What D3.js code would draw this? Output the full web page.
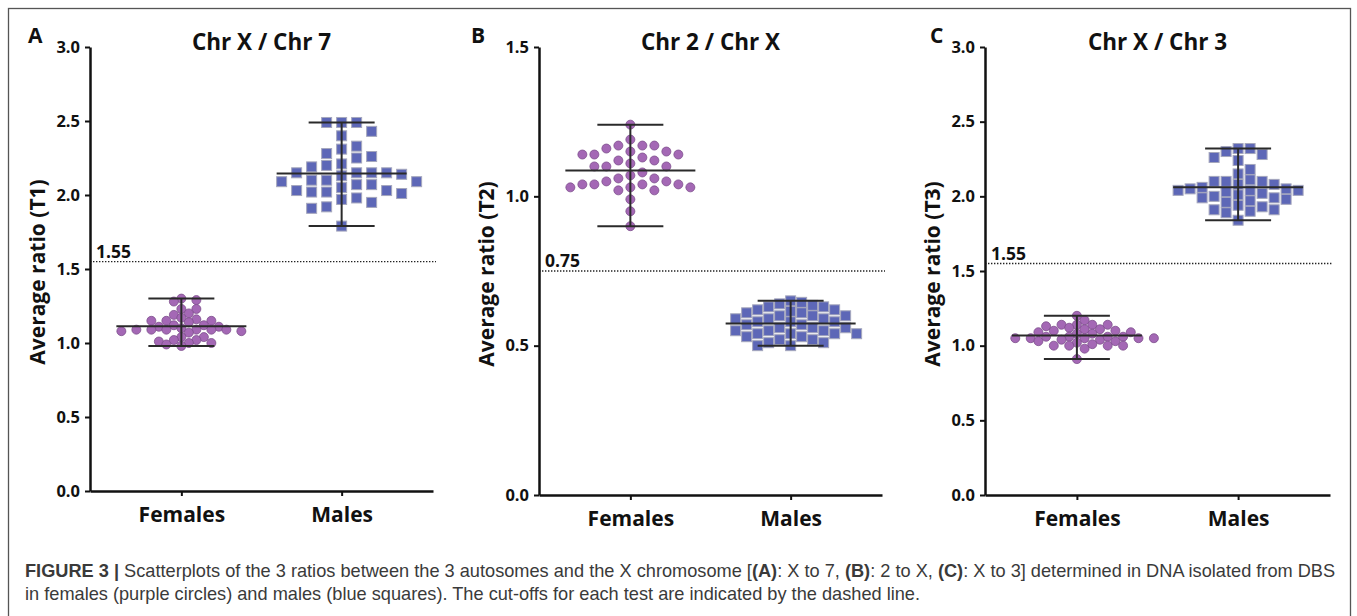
<!DOCTYPE html>
<html lang="en">
<head>
<meta charset="UTF-8">
<title>Figure 3</title>
<script src="https://d3js.org/d3.v7.min.js"></script>
<style>
  body { margin: 0; background: #fff; }
  svg text { font-family: "Open Sans", sans-serif; }
  .caption text, .caption tspan { font-family: "Liberation Sans", Arial, sans-serif; }
</style>
</head>
<body>
<script>
    // categories and labels
    var groups = ["Females", "Males"];
    var panelLetters = ["A", "B", "C"];
    var panelTitles = ["Chr X / Chr 7", "Chr 2 / Chr X", "Chr X / Chr 3"];
    var yTitles = ["Average ratio (T1)", "Average ratio (T2)", "Average ratio (T3)"];
    var yMaxes = [3.0, 1.5, 3.0];
    var yTicks = [
        [0, 0.5, 1.0, 1.5, 2.0, 2.5, 3.0],
        [0, 0.5, 1.0, 1.5],
        [0, 0.5, 1.0, 1.5, 2.0, 2.5, 3.0]
    ];
    var cutoffs = [1.55, 0.75, 1.55];
    var cutoffLabels = ["1.55", "0.75", "1.55"];

    // values
    var femalesT1 = [1.30, 1.29, 1.28, 1.23, 1.23, 1.20, 1.19, 1.17, 1.16, 1.15, 1.15, 1.15, 1.14, 1.12, 1.12, 1.11, 1.11, 1.10,
        1.09, 1.09, 1.09, 1.09, 1.09, 1.09, 1.08, 1.08, 1.07, 1.04, 1.04, 1.02, 1.02, 1.01, 1.00, 1.00, 0.99, 0.98];
    var malesT1 = [2.49, 2.49, 2.49, 2.43, 2.40, 2.33, 2.31, 2.28, 2.26, 2.25, 2.21, 2.20, 2.19, 2.15, 2.15, 2.15, 2.15, 2.14, 2.13,
        2.10, 2.10, 2.09, 2.09, 2.07, 2.07, 2.05, 2.03, 2.03, 2.02, 2.02, 2.01, 1.98, 1.97, 1.95, 1.92, 1.91, 1.79];
    var femalesT2 = [1.24, 1.19, 1.17, 1.17, 1.17, 1.16, 1.15, 1.15, 1.14, 1.14, 1.14, 1.13, 1.12, 1.12, 1.11, 1.10, 1.10, 1.10,
        1.08, 1.07, 1.06, 1.06, 1.05, 1.05, 1.04, 1.04, 1.04, 1.04, 1.03, 1.03, 1.03, 1.02, 1.02, 0.99, 0.95, 0.90];
    var malesT2 = [0.65, 0.645, 0.64, 0.635, 0.63, 0.63, 0.62, 0.62, 0.615, 0.61, 0.61, 0.60, 0.60, 0.60, 0.59, 0.59, 0.59, 0.58,
        0.58, 0.58, 0.57, 0.57, 0.56, 0.56, 0.56, 0.55, 0.55, 0.55, 0.54, 0.54, 0.54, 0.54, 0.53, 0.53, 0.52, 0.52, 0.51, 0.51, 0.50, 0.50];
    var femalesT3 = [1.20, 1.17, 1.14, 1.14, 1.14, 1.14, 1.11, 1.13, 1.12, 1.11, 1.10, 1.10, 1.08, 1.08, 1.09, 1.09, 1.05, 1.06, 1.05,
        1.04, 1.03, 1.04, 1.06, 1.03, 1.06, 1.05, 1.02, 1.05, 1.05, 1.06, 0.98, 1.00, 1.00, 1.00, 1.00, 1.01, 0.91];
    var malesT3 = [2.32, 2.32, 2.30, 2.28, 2.26, 2.24, 2.18, 2.15, 2.11, 2.10, 2.10, 2.10, 2.08, 2.08, 2.06, 2.05, 2.05, 2.04, 2.04,
        2.04, 2.03, 2.02, 2.01, 2.00, 1.99, 1.99, 1.98, 1.97, 1.96, 1.94, 1.93, 1.91, 1.91, 1.90, 1.89, 1.84];

    var series = [[femalesT1, malesT1], [femalesT2, malesT2], [femalesT3, malesT3]];

    var width = 1357;
    var height = 616;
    var svg = d3.select("body").append("svg")
        .attr("width", width)
        .attr("height", height);

    // outer frame
    svg.append("rect")
        .attr("x", 8.5).attr("y", 8.5)
        .attr("width", 1342).attr("height", 640)
        .attr("fill", "none")
        .attr("stroke", "#555")
        .attr("stroke-width", 1.3);

    var panels = [
        { left: 90, right: 433, top: 47, bottom: 491, letterX: 28 },
        { left: 539, right: 882, top: 47, bottom: 495, letterX: 471 },
        { left: 985, right: 1330, top: 47, bottom: 495, letterX: 930 }
    ];
    // swarm spacing per panel: [circles, squares]
    var swarmSteps = [[7.5, 15], [12, 11], [7.7, 12]];
    var swarmSepY = [[8, 11.5], [11, 10], [8, 10]];

    // simple beeswarm: offsets 0, +s, -s, +2s ... first free slot
    function swarm(values, y, step, sepY, round) {
        var order = d3.range(values.length).sort(function (a, b) { return values[b] - values[a]; });
        var placed = [];
        var out = [];
        order.forEach(function (i) {
            var py = y(values[i]);
            for (var k = 0; k < 60; k++) {
                var off = (k % 2 === 1 ? 1 : -1) * Math.ceil(k / 2) * step;
                var hit = placed.some(function (p) {
                    var dx = p.x - off, dy = p.y - py;
                    if (round) return dx * dx + dy * dy < sepY * sepY;
                    return Math.abs(dx) < step - 0.1 && Math.abs(dy) < sepY;
                });
                if (!hit) {
                    placed.push({ x: off, y: py });
                    out[i] = off;
                    break;
                }
            }
        });
        return out;
    }

    panels.forEach(function (p, pi) {
        var g = svg.append("g");

        var y = d3.scaleLinear()
            .domain([0, yMaxes[pi]])
            .range([p.bottom, p.top]);

        var x = d3.scalePoint()
            .domain(groups)
            .range([p.left, p.right])
            .padding(0.57);

        // cutoff line
        g.append("line")
            .attr("x1", p.left).attr("x2", p.right + 3)
            .attr("y1", y(cutoffs[pi])).attr("y2", y(cutoffs[pi]))
            .attr("stroke", "#222")
            .attr("stroke-width", 1.4)
            .attr("stroke-dasharray", "1.4,1.6");
        g.append("text")
            .attr("x", p.left + 6)
            .attr("y", y(cutoffs[pi]) - 4)
            .attr("font-size", 17.5)
            .attr("font-weight", 700)
            .attr("fill", "#111")
            .text(cutoffLabels[pi]);

        // points
        series[pi].forEach(function (vals, gi) {
            var cx = x(groups[gi]);
            var offs = swarm(vals, y, swarmSteps[pi][gi], swarmSepY[pi][gi], gi === 0);
            if (gi === 0) {
                g.selectAll(null)
                    .data(vals)
                    .enter()
                    .append("circle")
                    .attr("cx", function (d, i) { return cx + offs[i]; })
                    .attr("cy", function (d) { return y(d); })
                    .attr("r", 4.5)
                    .attr("fill", "#a468b5")
                    .attr("stroke", "#7e4f8d")
                    .attr("stroke-width", 0.8);
            } else {
                g.selectAll(null)
                    .data(vals)
                    .enter()
                    .append("rect")
                    .attr("x", function (d, i) { return cx + offs[i] - 5; })
                    .attr("y", function (d) { return y(d) - 5; })
                    .attr("width", 10)
                    .attr("height", 10)
                    .attr("fill", "#5d67b7")
                    .attr("stroke", "#a5a7bd")
                    .attr("stroke-width", 1);
            }

            // range whiskers and mean
            var ext = d3.extent(vals);
            var mean = d3.mean(vals);
            var lc = "#2a2a2a";
            g.append("line")
                .attr("x1", cx).attr("x2", cx)
                .attr("y1", y(ext[0])).attr("y2", y(ext[1]))
                .attr("stroke", lc).attr("stroke-width", 2);
            ext.forEach(function (v) {
                g.append("line")
                    .attr("x1", cx - 33).attr("x2", cx + 33)
                    .attr("y1", y(v)).attr("y2", y(v))
                    .attr("stroke", lc).attr("stroke-width", 2);
            });
            g.append("line")
                .attr("x1", cx - 65).attr("x2", cx + 65)
                .attr("y1", y(mean)).attr("y2", y(mean))
                .attr("stroke", lc).attr("stroke-width", 2);
        });

        // axes
        var yAxis = d3.axisLeft(y)
            .tickValues(yTicks[pi])
            .tickFormat(d3.format(".1f"))
            .tickSize(5)
            .tickSizeOuter(0)
            .tickPadding(5);
        var gy = g.append("g")
            .attr("transform", "translate(" + p.left + ",0)")
            .call(yAxis);

        var xAxis = d3.axisBottom(x)
            .tickSize(5)
            .tickSizeOuter(0);
        var gx = g.append("g")
            .attr("transform", "translate(0," + p.bottom + ")")
            .call(xAxis);

        [gy, gx].forEach(function (ax) {
            ax.select(".domain").attr("stroke", "#111").attr("stroke-width", 2.5);
            ax.selectAll(".tick line").attr("stroke", "#111").attr("stroke-width", 2);
        });
        gy.selectAll(".tick text")
            .attr("font-family", "Open Sans")
            .attr("font-size", 16.5)
            .attr("font-weight", 700)
            .attr("fill", "#111");
        gx.selectAll(".tick text")
            .attr("font-family", "Open Sans")
            .attr("font-size", 21)
            .attr("font-weight", 700)
            .attr("fill", "#111")
            .attr("y", 31)
            .attr("dy", 0);

        // titles
        g.append("text")
            .attr("x", (p.left + p.right) / 2)
            .attr("y", 50)
            .attr("text-anchor", "middle")
            .attr("font-size", 22.5)
            .attr("font-weight", 700)
            .attr("fill", "#111")
            .text(panelTitles[pi]);
        g.append("text")
            .attr("x", p.letterX)
            .attr("y", 43)
            .attr("font-size", 21)
            .attr("font-weight", 700)
            .attr("fill", "#111")
            .text(panelLetters[pi]);
        g.append("text")
            .attr("transform", "translate(" + (p.left - 45) + "," + ((p.top + p.bottom) / 2 + 3) + ") rotate(-90)")
            .attr("text-anchor", "middle")
            .attr("font-size", 21)
            .attr("font-weight", 700)
            .attr("fill", "#111")
            .text(yTitles[pi]);
    });

    // caption
    var cap = svg.append("g").attr("class", "caption").attr("fill", "#3a3a3a").attr("font-size", 18.2);
    var line1 = [
        ["FIGURE 3 | ", true], ["Scatterplots of the 3 ratios between the 3 autosomes and the X chromosome [", false],
        ["(A)", true], [": X to 7, ", false], ["(B)", true], [": 2 to X, ", false], ["(C)", true],
        [": X to 3] determined in DNA isolated from DBS", false]
    ];
    var t1 = cap.append("text").attr("x", 25).attr("y", 577);
    line1.forEach(function (s) {
        t1.append("tspan").attr("font-weight", s[1] ? 700 : 400).text(s[0]);
    });
    cap.append("text").attr("x", 25).attr("y", 600)
        .text("in females (purple circles) and males (blue squares). The cut-offs for each test are indicated by the dashed line.");
</script>
</body>
</html>
